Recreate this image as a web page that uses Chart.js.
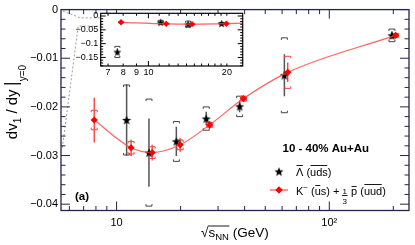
<!DOCTYPE html>
<html><head><meta charset="utf-8">
<script src="https://cdn.jsdelivr.net/npm/chart.js@4.4.1/dist/chart.umd.min.js"></script>
<style>
html,body{margin:0;padding:0;background:#fff;}
#wrap{position:relative;width:415px;height:245px;overflow:hidden;}
#main{position:absolute;left:0;top:0;}
#inset{position:absolute;left:55px;top:5px;}
</style></head><body>
<div id="wrap"><canvas id="main" width="415" height="245"></canvas><canvas id="inset" width="195" height="80"></canvas></div>
<script>
// ---------------- data ----------------
const energies = [7.7, 11.5, 14.5, 19.6, 27, 39, 62.4, 200];
// anti-Lambda (stars), plotted slightly left of each energy
const lambdaX    = [7.6, 11.15, 14.2, 19.1, 26.4, 37.9, 61.5, 197];
const lambdaSlope= [-0.130, -0.0227, -0.0294, -0.0271, -0.0224, -0.0199, -0.0135, -0.0053];
const lambdaStat = [0.012, 0.0073, 0.0070, 0.0030, 0.0014, 0.0012, 0.0043, 0.0008];
const lambdaSys  = [0.020, 0.0072, 0.0110, 0.0041, 0.0024, 0.0021, 0.0077, 0.0013];
// K- + 1/3 pbar (red), plotted slightly right of each energy
const kpX    = [7.85, 11.7, 14.7, 19.9, 27.4, 39.5, 63.8, 205];
const kpSlope= [-0.0227, -0.0284, -0.0294, -0.0278, -0.0237, -0.0183, -0.0129, -0.0053];
const kpStat = [0.0046, 0.0017, 0.0016, 0.0014, 0.0008, 0.0006, 0.0020, 0.0005];
const kpSys  = [0.0020, 0.0013, 0.0012, 0.0010, 0.0005, 0.0005, 0.0033, 0.0004];
// tick labels
const mainYTicks = [0, -0.01, -0.02, -0.03, -0.04];
const mainXTicks = [10, 100];
const mainXLabels = ['10', '10²'];
const insetYTicks = [0, -0.05, -0.1, -0.15];
const insetXTicks = [7, 8, 9, 10, 20];
const insetXLabels = ['7', '8', '9', '10', '20'];

// ---------------- helpers ----------------
const FONT = '"Liberation Sans", Arial, Helvetica, sans-serif';
const fnt = (s, b) => (b ? 'bold ' : '') + s + 'px ' + FONT;
function makeStar(r){
  const s = Math.ceil(r*2+2), c = document.createElement('canvas');
  c.width = s; c.height = s;
  const g = c.getContext('2d'); g.fillStyle = '#000'; g.beginPath();
  for (let k=0;k<10;k++){ const rr = k%2 ? r*0.42 : r; const an = -Math.PI/2 + k*Math.PI/5;
    g.lineTo(s/2 + rr*Math.cos(an), s/2 + 0.5 + rr*Math.sin(an)); }
  g.closePath(); g.fill(); return c;
}
const starImg = makeStar(4.8);
const starImgSmall = makeStar(4.2);
function drawParts(ctx, parts, x, y){
  let cx = x;
  parts.forEach(p=>{
    ctx.font = fnt(p.s, p.b);
    const w = ctx.measureText(p.t).width, dy = p.dy || 0;
    ctx.fillText(p.t, cx, y + dy);
    if (p.over){ ctx.beginPath(); ctx.moveTo(cx + (p.ol||0.5), y + dy - p.over); ctx.lineTo(cx + w - (p.or||0.5), y + dy - p.over); ctx.stroke(); }
    cx += w + (p.gap||0);
  });
  return cx;
}
function partsWidth(ctx, parts){ let w=0; parts.forEach(p=>{ctx.font=fnt(p.s,p.b); w+=ctx.measureText(p.t).width+(p.gap||0);}); return w; }

// ---------------- plugins ----------------
const tickFrame = {
  id:'tickFrame',
  afterDatasetsDraw(chart, args, o){
    const {ctx, chartArea:a} = chart, x = chart.scales.x, y = chart.scales.y;
    ctx.save(); ctx.strokeStyle = o.color; ctx.lineWidth = 1; ctx.beginPath();
    const xt=(v,len)=>{const p=x.getPixelForValue(v); ctx.moveTo(p,a.bottom); ctx.lineTo(p,a.bottom-len); ctx.moveTo(p,a.top); ctx.lineTo(p,a.top+len);};
    const yt=(v,len)=>{const p=y.getPixelForValue(v); ctx.moveTo(a.left,p); ctx.lineTo(a.left+len,p); ctx.moveTo(a.right,p); ctx.lineTo(a.right-len,p);};
    o.xMajor.forEach(v=>xt(v,o.major)); o.xMinor.forEach(v=>xt(v,o.minor));
    const st = o.yMinorStep, n0 = Math.ceil(y.min/st - 1e-6), n1 = Math.floor(y.max/st + 1e-6);
    for (let n=n0;n<=n1;n++){ const v=n*st, r=v/o.yMajorStep; yt(v, Math.abs(r-Math.round(r))<1e-6 ? o.major : o.minor); }
    ctx.stroke();
    ctx.lineWidth = o.frameWidth; ctx.strokeRect(a.left, a.top, a.right-a.left, a.bottom-a.top);
    ctx.restore();
  }
};
const errBars = {
  id:'errBars',
  beforeDatasetsDraw(chart, args, o){
    const {ctx, chartArea:a} = chart, x = chart.scales.x, y = chart.scales.y;
    ctx.save(); ctx.beginPath(); ctx.rect(a.left, a.top, a.right-a.left, a.bottom-a.top); ctx.clip();
    o.sets.forEach(s=>{
      s.x.forEach((xv,i)=>{
        const px = x.getPixelForValue(xv);
        ctx.strokeStyle = s.statColor; ctx.lineWidth = s.statWidth;
        ctx.beginPath(); ctx.moveTo(px, y.getPixelForValue(s.y[i]+s.stat[i])); ctx.lineTo(px, y.getPixelForValue(s.y[i]-s.stat[i])); ctx.stroke();
        const t = y.getPixelForValue(s.y[i]+s.sys[i]), b = y.getPixelForValue(s.y[i]-s.sys[i]), w = o.bw, l = o.bl;
        ctx.strokeStyle = s.sysColor; ctx.lineWidth = 1; ctx.beginPath();
        ctx.moveTo(px-w,t+l); ctx.lineTo(px-w,t); ctx.lineTo(px+w,t); ctx.lineTo(px+w,t+l);
        ctx.moveTo(px-w,b-l); ctx.lineTo(px-w,b); ctx.lineTo(px+w,b); ctx.lineTo(px+w,b-l);
        ctx.stroke();
      });
    });
    ctx.restore();
  }
};
const whiteBg = {
  id:'whiteBg',
  beforeDraw(chart){ const {ctx, chartArea:a} = chart; ctx.save(); ctx.fillStyle='#fff'; ctx.fillRect(a.left,a.top,a.right-a.left,a.bottom-a.top); ctx.restore(); }
};
const zoomLines = {
  id:'zoomLines',
  beforeDatasetsDraw(chart, args, o){
    const {ctx} = chart, x = chart.scales.x, y = chart.scales.y;
    ctx.save(); ctx.strokeStyle = '#9a9a9a'; ctx.lineWidth = 1; ctx.setLineDash([2,2]);
    o.paths.forEach(pth=>{ ctx.beginPath(); pth.forEach((p,i)=>{ const px=x.getPixelForValue(p[0]), py=y.getPixelForValue(p[1]); i?ctx.lineTo(px,py):ctx.moveTo(px,py); }); ctx.stroke(); });
    ctx.restore();
  }
};
const annotations = {
  id:'annotations',
  afterDraw(chart){
    const ctx = chart.ctx;
    ctx.save(); ctx.fillStyle = '#000'; ctx.strokeStyle = '#000'; ctx.lineWidth = 0.9; ctx.textBaseline = 'alphabetic'; ctx.textAlign = 'left';
    // y axis title (rotated)
    ctx.save(); ctx.translate(17, 102); ctx.rotate(-Math.PI/2);
    const yp1 = [{t:'dv',s:15},{t:'1',s:10,dy:4},{t:' / dy ',s:15}];
    const yp2 = [{t:'y=0',s:10,dy:9}];
    const wBar = 4;
    const tot = partsWidth(ctx, yp1) + wBar + partsWidth(ctx, yp2);
    let cx = drawParts(ctx, yp1, -tot/2, 0);
    ctx.lineWidth = 1.3; ctx.beginPath(); ctx.moveTo(cx+1.5, -13); ctx.lineTo(cx+1.5, 4); ctx.stroke();
    drawParts(ctx, yp2, cx + wBar, 0);
    ctx.restore();
    // x axis title
    ctx.lineWidth = 0.9;
    ctx.font = fnt(13.5); ctx.fillText('√', 201, 237);
    const xs = 201 + ctx.measureText('√').width;
    const xe = drawParts(ctx, [{t:'s',s:13.5},{t:'NN',s:9.5,dy:3}], xs, 237);
    ctx.beginPath(); ctx.moveTo(xs-0.5, 226); ctx.lineTo(xe+0.5, 226); ctx.stroke();
    drawParts(ctx, [{t:' (GeV)',s:13.5}], xe, 237);
    // panel label & system
    ctx.font = fnt(11.5, true); ctx.fillText('(a)', 75, 200);
    ctx.fillText('10 - 40% Au+Au', 282.5, 151.5);
    // legend entry 1
    ctx.drawImage(starImg, 279 - starImg.width/2, 171.5 - starImg.height/2);
    drawParts(ctx, [{t:'Λ',s:11,over:10},{t:' (',s:11},{t:'uds',s:11,over:10},{t:')',s:11}], 296, 175.5);
    // legend entry 2
    ctx.strokeStyle = 'rgba(255,60,60,0.9)'; ctx.lineWidth = 1.2;
    ctx.beginPath(); ctx.moveTo(270,190); ctx.lineTo(288,190); ctx.stroke();
    ctx.fillStyle = '#ff0000'; ctx.beginPath(); ctx.moveTo(279,186.3); ctx.lineTo(282.7,190); ctx.lineTo(279,193.7); ctx.lineTo(275.3,190); ctx.closePath(); ctx.fill();
    ctx.fillStyle = '#000'; ctx.strokeStyle = '#000'; ctx.lineWidth = 0.9;
    let lx = drawParts(ctx, [{t:'K',s:11},{t:'−',s:8,dy:-5},{t:' (',s:11},{t:'u',s:11,over:9},{t:'s) + ',s:11}], 296, 194.5);
    ctx.font = fnt(8); const fw = ctx.measureText('3').width;
    ctx.fillText('1', lx, 193.5); ctx.fillText('3', lx, 203.5);
    ctx.beginPath(); ctx.moveTo(lx-0.5, 195.5); ctx.lineTo(lx+fw+0.5, 195.5); ctx.stroke();
    drawParts(ctx, [{t:' p',s:11},{t:' (',s:11},{t:'uud',s:11,over:10},{t:')',s:11}], lx+fw+1, 194.5);
    // overline on p
    ctx.font = fnt(11); const spw = ctx.measureText(' ').width, pw = ctx.measureText('p').width;
    ctx.beginPath(); ctx.moveTo(lx+fw+1+spw+0.5, 186.5); ctx.lineTo(lx+fw+1+spw+pw-0.5, 186.5); ctx.stroke();
    ctx.restore();
  }
};

// ---------------- main chart ----------------
const redLine = 'rgba(255,70,70,0.85)';
new Chart(document.getElementById('main'), {
  type: 'line',
  data: { datasets: [
    { label:'K- + 1/3 pbar', data: kpX.map((v,i)=>({x:v, y:kpSlope[i]})), showLine:true,
      borderColor: redLine, borderWidth:1.2, cubicInterpolationMode:'monotone',
      pointStyle:'rectRot', pointRadius:3.6, pointBackgroundColor:'#ff0000', pointBorderColor:'#ff0000', pointBorderWidth:0 },
    { label:'anti-Lambda', data: lambdaX.map((v,i)=>({x:v, y:lambdaSlope[i]})), showLine:false,
      pointStyle: starImg, pointRadius:5 }
  ]},
  options: {
    responsive:false, animation:false, devicePixelRatio:1, events:[],
    layout:{ padding:{ top:6, right:5, left:0, bottom:0 } },
    plugins:{ legend:{display:false}, tooltip:{enabled:false},
      tickFrame:{ color:'#24244c', frameWidth:1.3, major:9, minor:4.5, xMajor:[10,100], xMinor:[6,7,8,9,20,30,40,50,60,70,80,90,200], yMajorStep:0.01, yMinorStep:0.002 },
      errBars:{ bw:3, bl:2, sets:[
        { x:lambdaX, y:lambdaSlope, stat:lambdaStat, sys:lambdaSys, statColor:'#555', statWidth:1.5, sysColor:'#444' },
        { x:kpX, y:kpSlope, stat:kpStat, sys:kpSys, statColor:'#ff2020', statWidth:1.2, sysColor:'#ff4040' } ] },
      zoomLines:{ paths:[ [[5.6,-0.0003],[6.75,-0.0017],[8.4,-0.0017]], [[5.56,-0.0284],[6.6,-0.0034],[8.4,-0.0034]] ] }
    },
    scales:{
      x:{ type:'logarithmic', min:5.48, max:237,
        afterBuildTicks(s){ s.ticks = mainXTicks.map(v=>({value:v})); },
        afterFit(s){ s.height = 34.5; },
        ticks:{ autoSkip:false, maxRotation:0, padding:6, color:'#000', font:{family:FONT, size:11},
          callback:(v)=>{ const i = mainXTicks.indexOf(v); return i>=0 ? mainXLabels[i] : ''; } },
        grid:{ display:false, drawTicks:false, tickLength:0 }, border:{ display:false } },
      y:{ type:'linear', min:-0.0413, max:0,
        afterBuildTicks(s){ s.ticks = mainYTicks.map(v=>({value:v})); },
        afterFit(s){ s.width = 61; },
        ticks:{ padding:3, color:'#000', font:{family:FONT, size:11},
          callback:(v)=> v===0 ? '0' : '−' + Math.abs(v) },
        grid:{ display:false, drawTicks:false, tickLength:0 }, border:{ display:false } }
    }
  },
  plugins:[zoomLines, errBars, tickFrame, annotations]
});

// ---------------- inset chart ----------------
new Chart(document.getElementById('inset'), {
  type: 'line',
  data: { datasets: [
    { label:'K- + 1/3 pbar', data: kpX.map((v,i)=>({x:v, y:kpSlope[i]})), showLine:true,
      borderColor: redLine, borderWidth:1.2, cubicInterpolationMode:'monotone',
      pointStyle:'rectRot', pointRadius:3.2, pointBackgroundColor:'#ff0000', pointBorderColor:'#ff0000', pointBorderWidth:0 },
    { label:'anti-Lambda', data: lambdaX.map((v,i)=>({x:v, y:lambdaSlope[i]})), showLine:false,
      pointStyle: starImgSmall, pointRadius:4.5 }
  ]},
  options: {
    responsive:false, animation:false, devicePixelRatio:1, events:[],
    layout:{ padding:{ top:8.3, right:7.3, left:0, bottom:0 } },
    plugins:{ legend:{display:false}, tooltip:{enabled:false},
      tickFrame:{ color:'#000', frameWidth:1.2, major:5, minor:2.5, xMajor:[10], xMinor:[7,8,9,11,12,13,14,15,16,17,18,19,20], yMajorStep:0.05, yMinorStep:0.01 },
      errBars:{ bw:2.5, bl:1.5, sets:[
        { x:lambdaX, y:lambdaSlope, stat:lambdaStat, sys:lambdaSys, statColor:'#555', statWidth:1.2, sysColor:'#444' },
        { x:kpX, y:kpSlope, stat:kpStat, sys:kpSys, statColor:'#ff2020', statWidth:1, sysColor:'#ff4040' } ] }
    },
    scales:{
      x:{ type:'logarithmic', min:6.56, max:23,
        afterBuildTicks(s){ s.ticks = insetXTicks.map(v=>({value:v})); },
        afterFit(s){ s.height = 19; },
        ticks:{ autoSkip:false, maxRotation:0, padding:1, color:'#000', font:{family:FONT, size:9},
          callback:(v)=>{ const i = insetXTicks.indexOf(v); return i>=0 ? insetXLabels[i] : ''; } },
        grid:{ display:false, drawTicks:false, tickLength:0 }, border:{ display:false } },
      y:{ type:'linear', min:-0.181, max:0.0098,
        afterBuildTicks(s){ s.ticks = insetYTicks.map(v=>({value:v})); },
        afterFit(s){ s.width = 45.7; },
        ticks:{ padding:2.5, color:'#000', font:{family:FONT, size:9},
          callback:(v)=> v===0 ? '0' : '−' + Math.abs(v) },
        grid:{ display:false, drawTicks:false, tickLength:0 }, border:{ display:false } }
    }
  },
  plugins:[whiteBg, errBars, tickFrame]
});
</script>
</body></html>
